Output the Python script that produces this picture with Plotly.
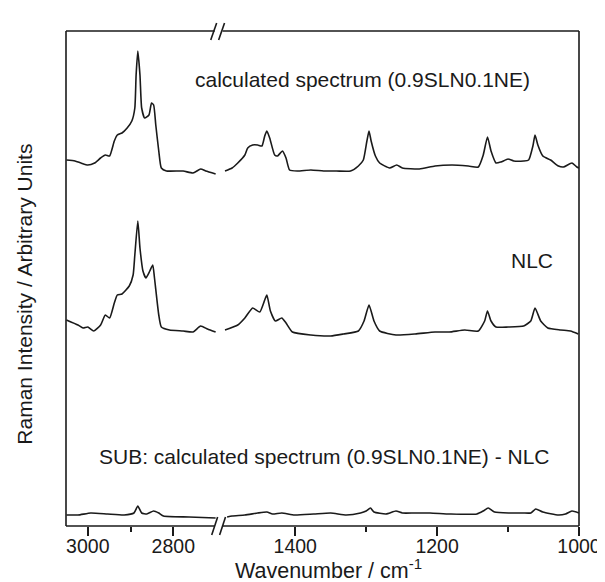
import plotly.graph_objects as go

# ---------------- data (wavenumber / cm-1, intensity in arbitrary units) -------------
# calculated spectrum (0.9SLN0.1NE)
calc_wn_hi = [3050, 3030, 3016, 3000, 2984, 2970, 2959, 2949, 2938, 2931, 2920, 2908, 2897, 2890,
              2887, 2883, 2878, 2874, 2867, 2857, 2851, 2846, 2841, 2834, 2828, 2816, 2777, 2754,
              2736, 2724, 2701]
calc_int_hi = [11, 10, 8, 6, 8, 13, 16, 15, 30, 36, 38, 43, 50, 63, 96, 120, 96, 63, 53, 56, 68, 66,
               46, 20, 3, 0, 0, -2, 2, 0, -3]
calc_wn_lo = [1499, 1489, 1481, 1471, 1467, 1460, 1453, 1447, 1443, 1440, 1436, 1429, 1425, 1418,
              1413, 1408, 1397, 1378, 1360, 1342, 1322, 1311, 1304, 1299, 1296, 1293, 1287, 1281,
              1267, 1257, 1249, 1225, 1203, 1179, 1156, 1142, 1135, 1129, 1124, 1117, 1110, 1100,
              1092, 1078, 1071, 1065, 1062, 1058, 1051, 1040, 1029, 1022, 1010, 1003, 1000]
calc_int_lo = [0, 3, 8, 16, 23, 26, 26, 25, 35, 40, 33, 16, 15, 20, 13, 1, 0, 1, 0, 0, 0, 5, 11, 30,
               40, 30, 15, 8, 3, 6, 3, 2, 5, 6, 5, 4, 16, 34, 20, 8, 9, 12, 10, 10, 11, 25, 36, 26,
               15, 11, 5, 4, 8, 4, 3]

# NLC
nlc_wn_hi = [3050, 3023, 3011, 3000, 2986, 2970, 2959, 2949, 2938, 2931, 2920, 2903, 2894, 2890,
             2883, 2878, 2871, 2864, 2855, 2848, 2844, 2834, 2828, 2809, 2777, 2754, 2736, 2720, 2701]
nlc_int_hi = [12, 7, 4, 5, 1, 7, 17, 14, 29, 37, 38, 46, 57, 77, 111, 84, 61, 54, 61, 67, 54, 17, 5,
              2, 1, 0, 6, 3, 0]
nlc_wn_lo = [1499, 1481, 1471, 1460, 1450, 1443, 1440, 1435, 1428, 1419, 1413, 1404, 1378, 1350,
             1332, 1311, 1303, 1296, 1289, 1281, 1258, 1231, 1203, 1183, 1161, 1142, 1133, 1129,
             1124, 1117, 1100, 1078, 1068, 1062, 1054, 1044, 1026, 1012, 1001]
nlc_int_lo = [2, 7, 14, 24, 20, 32, 37, 21, 11, 14, 9, 0, -3, -4, -2, 1, 11, 27, 11, 1, -3, -2, 0, 0,
              2, 1, 11, 21, 11, 5, 5, 6, 11, 24, 11, 4, 2, 1, -2]

# SUB: calculated spectrum - NLC
sub_wn_hi = [3050, 3023, 2993, 2954, 2915, 2892, 2883, 2874, 2862, 2846, 2834, 2823, 2763, 2701]
sub_int_hi = [0, 0, 2, 1, 0, 2, 9, 2, 1, 4, 2, -1, -2, -3]
sub_wn_lo = [1496, 1489, 1471, 1453, 1440, 1432, 1419, 1401, 1374, 1350, 1328, 1308, 1300, 1294,
             1289, 1272, 1258, 1249, 1232, 1210, 1182, 1144, 1135, 1128, 1119, 1099, 1079, 1068,
             1061, 1051, 1029, 1019, 1010, 1000]
sub_int_lo = [-2, -1, 0, 2, 3, 1, 2, 0, 1, 2, 0, 2, 4, 7, 3, 1, 4, 2, 2, 2, 1, 1, 4, 7, 3, 2, 2, 2,
              6, 3, 0, 1, 4, 2]

series_names = ["calculated spectrum (0.9SLN0.1NE)", "NLC", "SUB: calculated spectrum (0.9SLN0.1NE) - NLC"]
stack_offsets = [355, 194, 11]

ticks_hi_major = [3000, 2800]
ticks_hi_minor = [2900]
ticks_lo_major = [1400, 1200, 1000]
ticks_lo_minor = [1300, 1100]

# ---------------- figure ----------------
W, H = 605, 582
L, R, T, B = 58, 579, 23, 518          # plot frame in pixels
BREAK = 213                             # pixel of the axis break


def px(x):
    return (x - L) / (R - L)


def py(y):
    return (B - y) / (B - T)


FONT = "Liberation Sans, Arial, Helvetica, sans-serif"
INK = "#1a1a1a"
line_style = dict(color=INK, width=1.6, shape="spline", smoothing=0.5)

fig = go.Figure()
spectra = [
    (calc_wn_hi, calc_int_hi, calc_wn_lo, calc_int_lo),
    (nlc_wn_hi, nlc_int_hi, nlc_wn_lo, nlc_int_lo),
    (sub_wn_hi, sub_int_hi, sub_wn_lo, sub_int_lo),
]
for (wh, ih, wl, il), off, name in zip(spectra, stack_offsets, series_names):
    fig.add_trace(go.Scatter(x=wh, y=[v + off for v in ih], mode="lines", line=line_style,
                             xaxis="x", yaxis="y", name=name, showlegend=False))
    fig.add_trace(go.Scatter(x=wl, y=[v + off for v in il], mode="lines", line=line_style,
                             xaxis="x2", yaxis="y", name=name, showlegend=False))

axis_common = dict(showgrid=False, zeroline=False, showline=False, ticks="outside",
                   tickcolor=INK, tickwidth=1.5, ticklen=9, ticklabelstandoff=-6,
                   tickfont=dict(family=FONT, size=19.5, color=INK))

fig.update_layout(
    width=W, height=H,
    margin=dict(l=L, r=W - R, t=T, b=H - B),
    paper_bgcolor="white", plot_bgcolor="white",
    xaxis=dict(domain=[0, px(BREAK)], range=[3051, 2694], anchor="y",
               tickmode="array", tickvals=ticks_hi_major,
               minor=dict(tickmode="array", tickvals=ticks_hi_minor, ticks="outside",
                          ticklen=5, tickwidth=1.5, tickcolor=INK),
               **axis_common),
    xaxis2=dict(domain=[px(BREAK), 1], range=[1508, 1000], anchor="y",
                tickmode="array", tickvals=ticks_lo_major,
                minor=dict(tickmode="array", tickvals=ticks_lo_minor, ticks="outside",
                           ticklen=5, tickwidth=1.5, tickcolor=INK),
                **axis_common),
    yaxis=dict(range=[0, B - T], visible=False, fixedrange=True),
    font=dict(family=FONT, size=21, color=INK),
)

# frame with broken top and bottom edges
frame = dict(color=INK, width=1.6)
shapes = [
    dict(type="line", xref="paper", yref="paper", x0=0, x1=0, y0=0, y1=1, line=frame),
    dict(type="line", xref="paper", yref="paper", x0=1, x1=1, y0=0, y1=1, line=frame),
    dict(type="line", xref="paper", yref="paper", x0=0, x1=px(209), y0=1, y1=1, line=frame),
    dict(type="line", xref="paper", yref="paper", x0=px(217), x1=1, y0=1, y1=1, line=frame),
    dict(type="line", xref="paper", yref="paper", x0=0, x1=px(209), y0=0, y1=0, line=frame),
    dict(type="line", xref="paper", yref="paper", x0=px(217), x1=1, y0=0, y1=0, line=frame),
    # break marks
    dict(type="line", xref="paper", yref="paper", x0=px(205), y0=py(32), x1=px(211), y1=py(15), line=frame),
    dict(type="line", xref="paper", yref="paper", x0=px(213), y0=py(32), x1=px(219), y1=py(15), line=frame),
    dict(type="line", xref="paper", yref="paper", x0=px(206), y0=py(527), x1=px(212), y1=py(509), line=frame),
    dict(type="line", xref="paper", yref="paper", x0=px(214), y0=py(527), x1=px(220), y1=py(509), line=frame),
]
fig.update_layout(shapes=shapes)

ann = dict(xref="paper", yref="paper", showarrow=False, font=dict(family=FONT, size=21, color=INK),
           xanchor="center", yanchor="middle")
fig.add_annotation(text=series_names[0], x=px(359), y=py(72), **ann)
fig.add_annotation(text=series_names[1], x=px(531), y=py(252), **ann)
fig.add_annotation(text=series_names[2], x=px(321), y=py(448), **ann)
fig.add_annotation(text="Wavenumber / cm<sup>-1</sup>", x=px(325), y=py(561),
                   **{**ann, "font": dict(family=FONT, size=21.5, color=INK)})
fig.add_annotation(text="Raman Intensity / Arbitrary Units", x=px(15), y=py(286), textangle=-90, **ann)

fig.write_html("out.html")
